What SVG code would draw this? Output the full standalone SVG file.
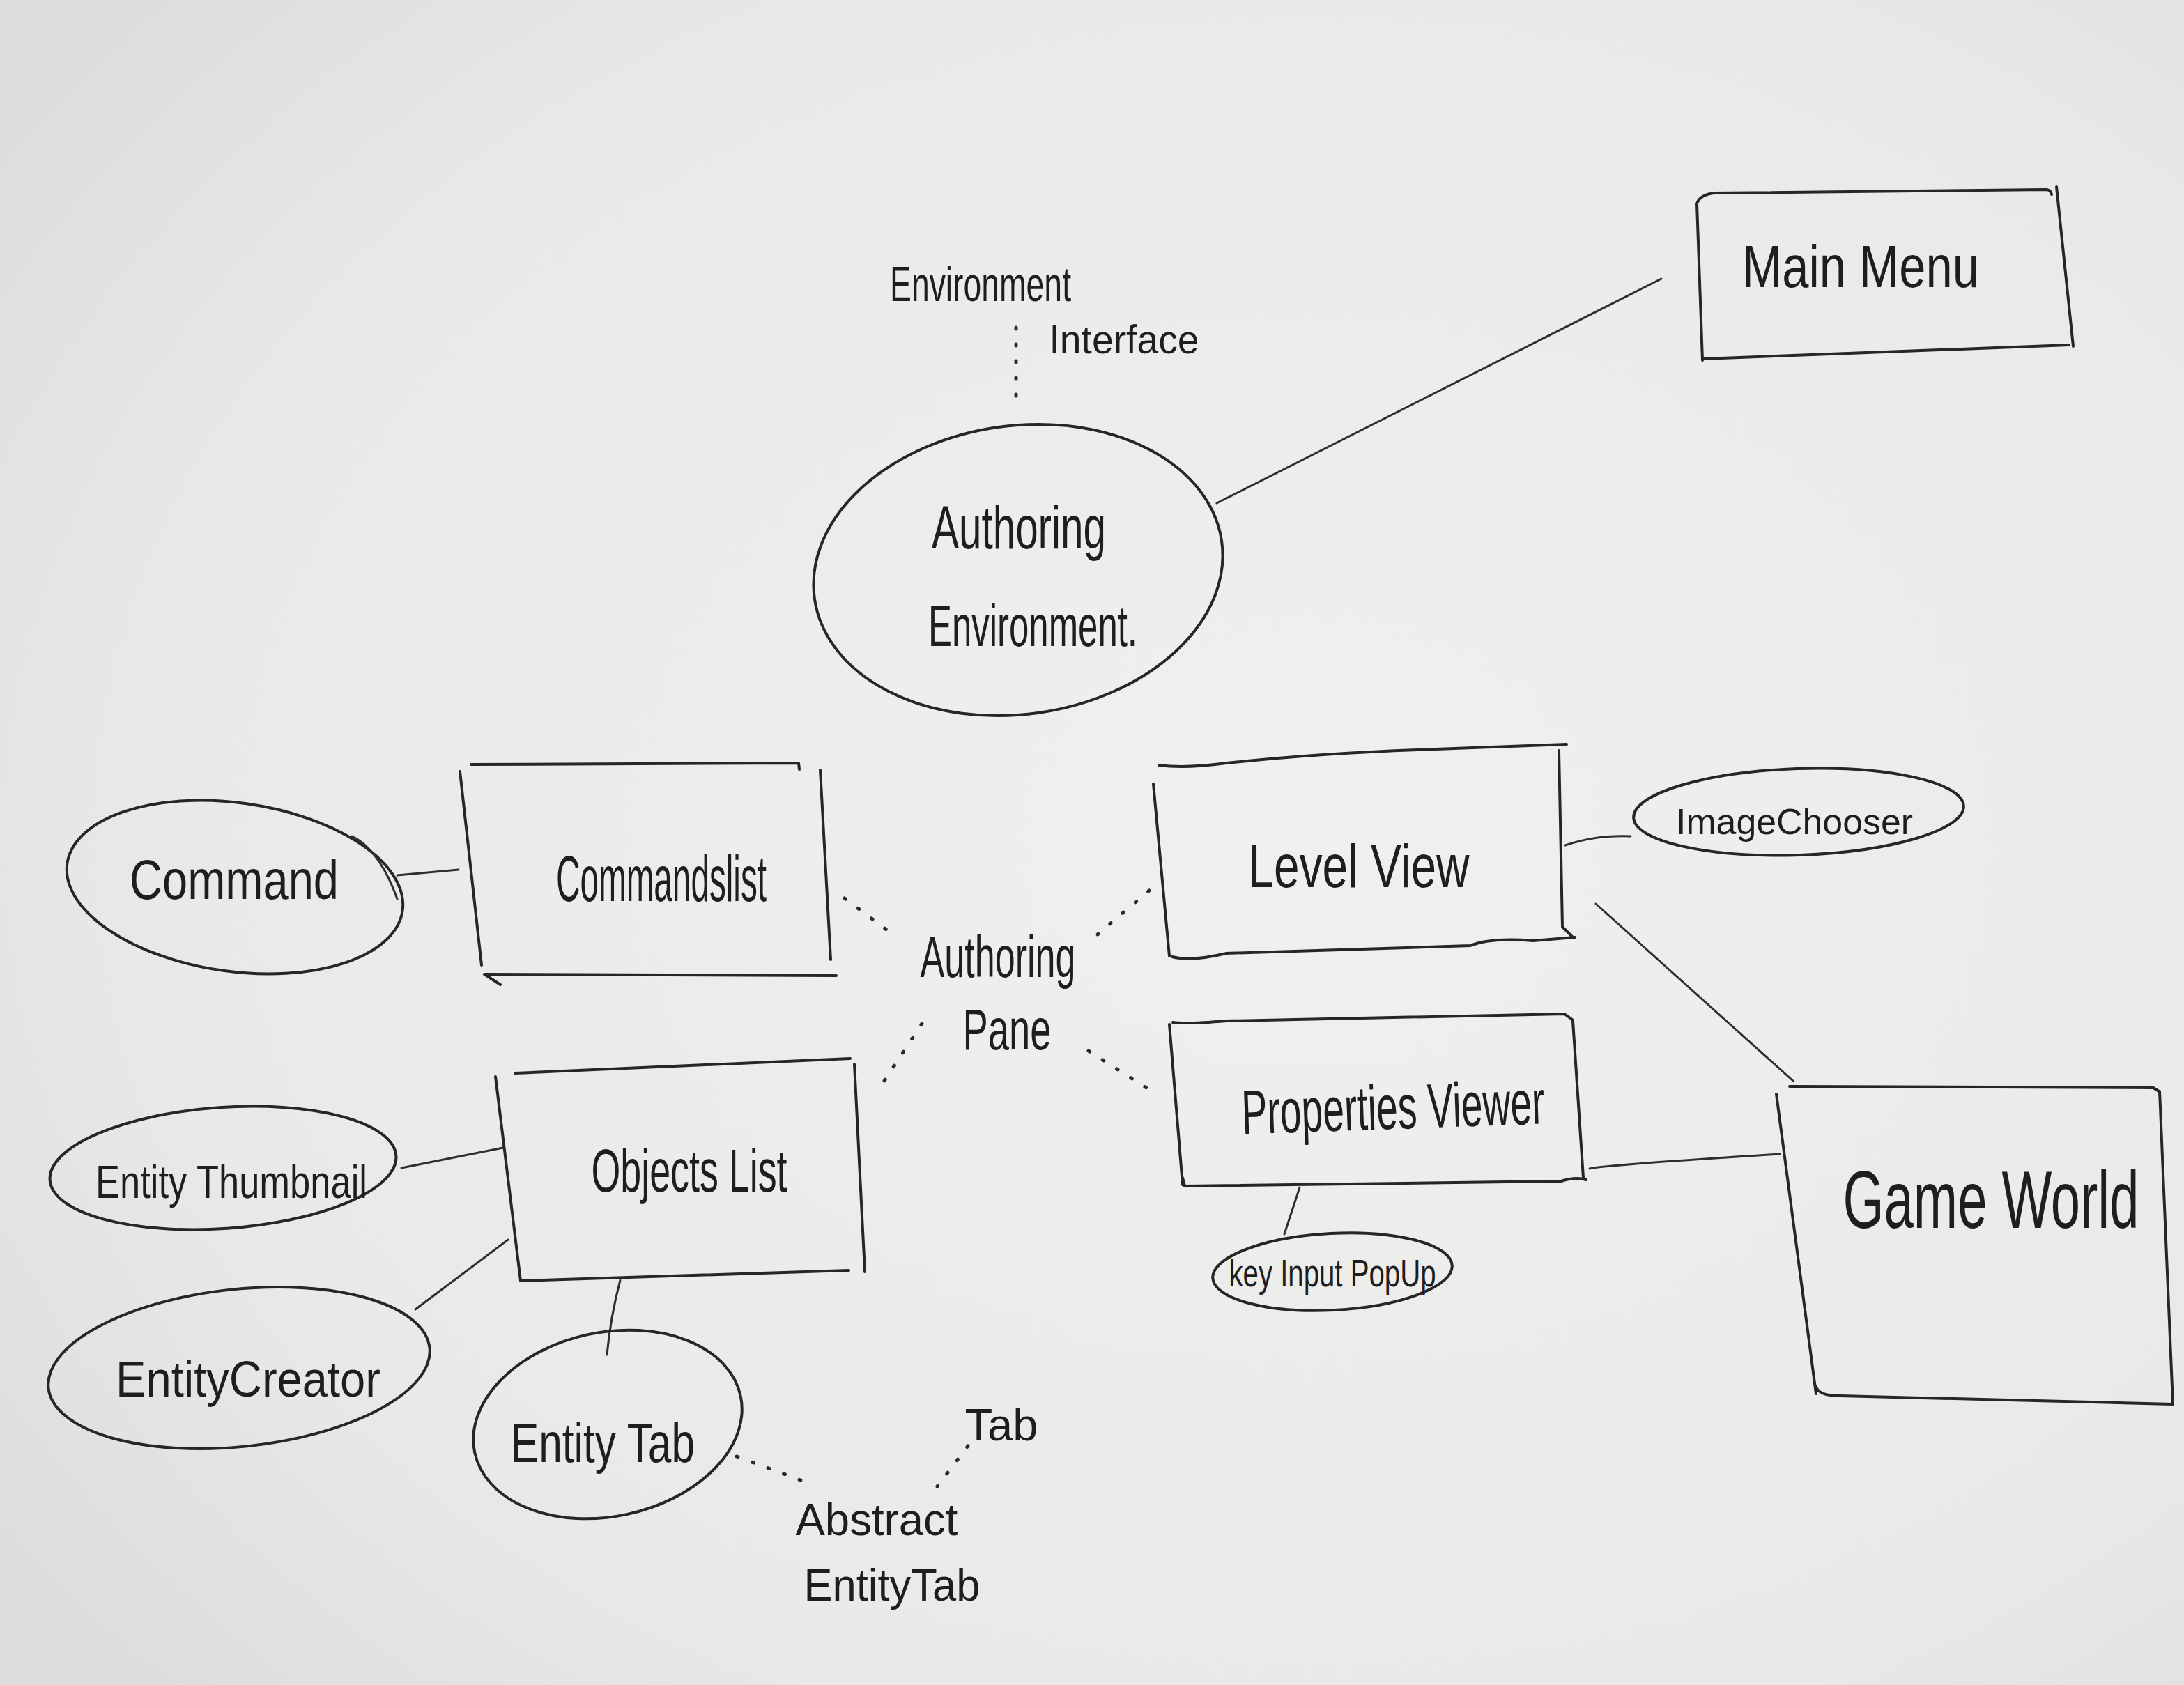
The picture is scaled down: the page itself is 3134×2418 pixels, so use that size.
<svg xmlns="http://www.w3.org/2000/svg" width="3134" height="2418" viewBox="0 0 3134 2418">
<defs>
<radialGradient id="paper" cx="0.6" cy="0.5" r="0.75">
<stop offset="0" stop-color="#f0f0ee"/>
<stop offset="0.7" stop-color="#e9e9e7"/>
<stop offset="1" stop-color="#dcdcda"/>
</radialGradient>
<style>
.ink{fill:none;stroke:#262626;stroke-width:4;stroke-linecap:round;stroke-linejoin:round}
.thin{fill:none;stroke:#2e2e2e;stroke-width:3;stroke-linecap:round}
.dot{fill:none;stroke:#2a2a2a;stroke-width:5;stroke-linecap:round;stroke-dasharray:2 22}
.t{font-family:"Liberation Sans Narrow","Liberation Sans",Arial,sans-serif;fill:#1e1e1e;text-anchor:middle}
</style>
</defs>
<rect width="3134" height="2418" fill="url(#paper)"/>

<g id="connectors">
<path id="c-env-mainmenu" class="thin" d="M1746 722 L2384 400"/>
<path id="c-interface" class="dot" d="M1458 470 L1458 580"/>
<path id="c-command-commandslist" class="thin" d="M570 1256 L658 1248"/>
<path id="c-pane-commandslist" class="dot" d="M1212 1289 L1280 1340"/>
<path id="c-pane-levelview" class="dot" d="M1649 1278 L1575 1341"/>
<path id="c-pane-objectslist" class="dot" d="M1323 1469 L1265 1557"/>
<path id="c-pane-properties" class="dot" d="M1562 1508 L1645 1561"/>
<path id="c-levelview-imagechooser" class="thin" d="M2246 1213 Q2290 1198 2340 1200"/>
<path id="c-levelview-gameworld" class="thin" d="M2290 1297 L2573 1551"/>
<path id="c-properties-gameworld" class="thin" d="M2281 1677 Q2300 1672 2554 1656"/>
<path id="c-properties-keyinput" class="thin" d="M1865 1704 L1843 1771"/>
<path id="c-thumbnail-objectslist" class="thin" d="M576 1676 L722 1647"/>
<path id="c-creator-objectslist" class="thin" d="M596 1879 L729 1779"/>
<path id="c-objectslist-entitytab" class="thin" d="M890 1837 Q876 1890 871 1944"/>
<path id="c-entitytab-abstract" class="dot" d="M1057 2090 L1165 2130"/>
<path id="c-tab-abstract" class="dot" d="M1389 2075 L1345 2133"/>
</g>

<g id="environment-interface">
<text class="t" x="1407" y="432" font-size="70" textLength="260" lengthAdjust="spacingAndGlyphs">Environment</text>
<text class="t" x="1613" y="507" font-size="58" textLength="215" lengthAdjust="spacingAndGlyphs">Interface</text>
</g>

<g id="authoring-environment">
<ellipse class="ink" cx="1461" cy="818" rx="295" ry="207" transform="rotate(-8 1461 818)" stroke-width="3"/>
<text class="t" x="1462" y="787" font-size="88" textLength="250" lengthAdjust="spacingAndGlyphs">Authoring</text>
<text class="t" x="1482" y="927" font-size="84" textLength="300" lengthAdjust="spacingAndGlyphs">Environment.</text>
</g>

<g id="main-menu">
<path class="ink" d="M2436 290 Q2440 280 2459 277 L2937 272 Q2943 273 2944 279"/>
<path class="ink" d="M2951 268 L2975 497"/>
<path class="ink" d="M2435 292 L2443 517"/>
<path class="ink" d="M2443 515 L2969 495"/>
<text class="t" x="2670" y="412" font-size="86" textLength="340" lengthAdjust="spacingAndGlyphs">Main Menu</text>
</g>

<g id="command">
<ellipse class="ink" cx="337" cy="1273" rx="243" ry="121" transform="rotate(8 337 1273)" stroke-width="3"/>
<path class="thin" d="M505 1200 Q545 1220 570 1290"/>
<text class="t" x="336" y="1290" font-size="80" textLength="300" lengthAdjust="spacingAndGlyphs">Command</text>
</g>

<g id="commands-list">
<path class="ink" d="M676 1097 L1146 1095 L1147 1104"/>
<path class="ink" d="M660 1107 L691 1385"/>
<path class="ink" d="M1177 1105 L1192 1377"/>
<path class="ink" d="M718 1413 L695 1398 L1200 1400"/>
<text class="t" x="949" y="1293" font-size="92" textLength="302" lengthAdjust="spacingAndGlyphs">Commandslist</text>
</g>

<g id="authoring-pane">
<text class="t" x="1432" y="1402" font-size="84" textLength="223" lengthAdjust="spacingAndGlyphs">Authoring</text>
<text class="t" x="1445" y="1506" font-size="84" textLength="127" lengthAdjust="spacingAndGlyphs">Pane</text>
</g>

<g id="level-view">
<path class="ink" d="M1663 1098 Q1700 1103 1760 1095 Q1900 1080 2060 1075 L2248 1068"/>
<path class="ink" d="M1655 1125 L1678 1372"/>
<path class="ink" d="M2237 1077 L2242 1330 L2257 1345"/>
<path class="ink" d="M1682 1373 Q1710 1380 1760 1368 L2110 1357 Q2140 1345 2200 1350 L2260 1345"/>
<text class="t" x="1950" y="1273" font-size="88" textLength="317" lengthAdjust="spacingAndGlyphs">Level View</text>
</g>

<g id="image-chooser">
<ellipse class="ink" cx="2581" cy="1165" rx="237" ry="62" transform="rotate(-2 2581 1165)" stroke-width="3"/>
<text class="t" x="2575" y="1197" font-size="52" textLength="340" lengthAdjust="spacingAndGlyphs">ImageChooser</text>
</g>

<g id="properties-viewer">
<path class="ink" d="M1683 1467 Q1700 1470 1760 1465 L2245 1455 L2256 1463"/>
<path class="ink" d="M1678 1470 L1697 1700"/>
<path class="ink" d="M2257 1465 L2272 1690"/>
<path class="ink" d="M1697 1690 L1700 1702 L2240 1695 Q2262 1688 2276 1693"/>
<text class="t" x="2000" y="1620" font-size="90" textLength="435" lengthAdjust="spacingAndGlyphs" transform="rotate(-2 2000 1620)">Properties Viewer</text>
</g>

<g id="key-input-popup">
<ellipse class="ink" cx="1912" cy="1825" rx="172" ry="55" transform="rotate(-3 1912 1825)" stroke-width="3"/>
<text class="t" x="1912" y="1846" font-size="56" textLength="297" lengthAdjust="spacingAndGlyphs">key Input PopUp</text>
</g>

<g id="game-world">
<path class="ink" d="M2568 1559 L3090 1561 L3098 1566"/>
<path class="ink" d="M2549 1570 L2606 2000"/>
<path class="ink" d="M3099 1566 L3118 2015"/>
<path class="ink" d="M2606 1990 Q2610 2003 2640 2003 L3118 2015"/>
<text class="t" x="2857" y="1762" font-size="116" textLength="425" lengthAdjust="spacingAndGlyphs">Game World</text>
</g>

<g id="objects-list">
<path class="ink" d="M739 1540 L1220 1519"/>
<path class="ink" d="M711 1545 L747 1838"/>
<path class="ink" d="M1226 1527 L1241 1825"/>
<path class="ink" d="M747 1838 L1218 1823"/>
<text class="t" x="989" y="1710" font-size="88" textLength="281" lengthAdjust="spacingAndGlyphs">Objects List</text>
</g>

<g id="entity-thumbnail">
<ellipse class="ink" cx="320" cy="1676" rx="249" ry="87" transform="rotate(-4 320 1676)" stroke-width="3"/>
<text class="t" x="332" y="1719" font-size="66" textLength="390" lengthAdjust="spacingAndGlyphs">Entity Thumbnail</text>
</g>

<g id="entity-creator">
<ellipse class="ink" cx="343" cy="1963" rx="275" ry="113" transform="rotate(-6 343 1963)" stroke-width="3"/>
<text class="t" x="356" y="2004" font-size="72" textLength="380" lengthAdjust="spacingAndGlyphs">EntityCreator</text>
</g>

<g id="entity-tab">
<ellipse class="ink" cx="872" cy="2044" rx="195" ry="132" transform="rotate(-12 872 2044)" stroke-width="3"/>
<text class="t" x="865" y="2098" font-size="80" textLength="264" lengthAdjust="spacingAndGlyphs">Entity Tab</text>
</g>

<g id="tab">
<text class="t" x="1437" y="2067" font-size="64" textLength="105" lengthAdjust="spacingAndGlyphs">Tab</text>
</g>

<g id="abstract-entity-tab">
<text class="t" x="1258" y="2203" font-size="64" textLength="233" lengthAdjust="spacingAndGlyphs">Abstract</text>
<text class="t" x="1280" y="2297" font-size="64" textLength="253" lengthAdjust="spacingAndGlyphs">EntityTab</text>
</g>
</svg>
